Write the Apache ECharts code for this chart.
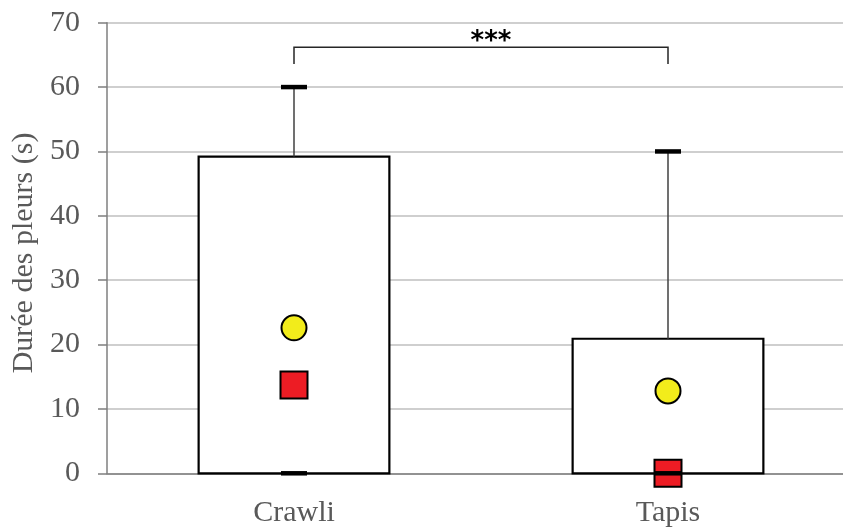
<!DOCTYPE html>
<html>
<head>
<meta charset="utf-8">
<script src="https://cdn.jsdelivr.net/npm/echarts@6/dist/echarts.min.js"></script>
<style>
  html, body { margin: 0; padding: 0; background: #fff; }
  #chart { width: 843px; height: 527px; }
</style>
</head>
<body>
<div id="chart"></div>
<script>
const categories = ["Crawli", "Tapis"];
const whiskerLow = [0, 0];
const boxLow = [0, 0];
const boxHigh = [49.2, 20.9];
const whiskerHigh = [60, 50];
const medians = [13.7, 0];
const means = [22.6, 12.8];

// significance bracket between the two groups
const sigPair = [0, 1];
const sigTop = 66.2;
const sigFoot = 63.6;
const sigLabel = "***";

const serif = "'Liberation Serif', 'Times New Roman', serif";
const textColor = "#595959";

const chart = echarts.init(document.getElementById("chart"), null, { renderer: "canvas" });

function renderBox(params, api) {
  const x = api.value(0);
  const lo = api.coord([x, api.value(1)]);
  const hi = api.coord([x, api.value(2)]);
  const w = api.size([1, 0])[0] * 0.51;
  return {
    type: "rect",
    shape: { x: lo[0] - w / 2, y: hi[1], width: w, height: lo[1] - hi[1] },
    style: { fill: "#fff", stroke: "#000", lineWidth: 2.2 },
  };
}

function renderWhisker(params, api) {
  const x = api.value(0);
  const wLo = api.coord([x, api.value(1)]);
  const bLo = api.coord([x, api.value(2)]);
  const bHi = api.coord([x, api.value(3)]);
  const wHi = api.coord([x, api.value(4)]);
  const cap = 26;
  return {
    type: "group",
    children: [
      {
        type: "line",
        shape: { x1: bHi[0], y1: bHi[1], x2: wHi[0], y2: wHi[1] },
        style: { stroke: "#404040", lineWidth: 1.5 },
      },
      {
        type: "line",
        shape: { x1: wLo[0], y1: wLo[1], x2: bLo[0], y2: bLo[1] },
        style: { stroke: "#404040", lineWidth: 1.5 },
      },
      {
        type: "line",
        shape: { x1: wHi[0] - cap / 2, y1: wHi[1], x2: wHi[0] + cap / 2, y2: wHi[1] },
        style: { stroke: "#000", lineWidth: 4.5 },
      },
      {
        type: "line",
        shape: { x1: wLo[0] - cap / 2, y1: wLo[1], x2: wLo[0] + cap / 2, y2: wLo[1] },
        style: { stroke: "#000", lineWidth: 4.5 },
      },
    ],
  };
}

function renderBracket(params, api) {
  const a = api.coord([api.value(0), api.value(2)]);
  const b = api.coord([api.value(1), api.value(2)]);
  const foot = api.coord([api.value(0), api.value(3)])[1];
  return {
    type: "group",
    children: [
      {
        type: "polyline",
        shape: { points: [[a[0], foot], [a[0], a[1]], [b[0], b[1]], [b[0], foot]] },
        style: { stroke: "#262626", lineWidth: 1.5, fill: null },
      },
      {
        type: "text",
        style: {
          x: (a[0] + b[0]) / 2 + 10,
          y: a[1] + 8,
          text: sigLabel,
          font: "bold 26px 'DejaVu Sans', sans-serif",
          fill: "#000",
          align: "center",
          verticalAlign: "bottom",
        },
      },
    ],
  };
}

chart.setOption({
  animation: false,
  backgroundColor: "#fff",
  grid: { left: 107, width: 748, top: 22.7, bottom: 53.7, outerBoundsMode: "none", containLabel: false },
  xAxis: {
    type: "category",
    data: categories,
    axisLine: { lineStyle: { color: "#7f7f7f", width: 1.5 } },
    axisTick: { show: false },
    axisLabel: { color: textColor, fontFamily: serif, fontSize: 30, margin: 25 },
    splitLine: { show: false },
  },
  yAxis: {
    type: "value",
    min: 0,
    max: 70,
    interval: 10,
    name: "Durée des pleurs (s)",
    nameLocation: "middle",
    nameGap: 66,
    nameTextStyle: { color: textColor, fontFamily: serif, fontSize: 30, padding: [0, 10, 0, 0] },
    axisLine: { show: true, lineStyle: { color: "#7f7f7f", width: 1.5 } },
    axisTick: { show: true, length: 9, lineStyle: { color: "#7f7f7f", width: 1.5 } },
    axisLabel: { color: textColor, fontFamily: serif, fontSize: 30, margin: 27 },
    splitLine: { lineStyle: { color: "#bfbfbf", width: 1.5 } },
  },
  series: [
    {
      type: "custom",
      z: 2,
      renderItem: renderBox,
      data: categories.map((c, i) => [i, boxLow[i], boxHigh[i]]),
    },
    {
      type: "scatter",
      z: 3,
      symbol: "rect",
      symbolSize: 27,
      itemStyle: { color: "#ed1c24", opacity: 1, borderColor: "#000", borderWidth: 2 },
      emphasis: { disabled: true },
      data: categories.map((c, i) => [i, medians[i]]),
    },
    {
      type: "scatter",
      z: 3,
      symbol: "circle",
      symbolSize: 25,
      itemStyle: { color: "#f2ec1b", opacity: 1, borderColor: "#000", borderWidth: 2 },
      emphasis: { disabled: true },
      data: categories.map((c, i) => [i, means[i]]),
    },
    {
      type: "custom",
      z: 4,
      renderItem: renderWhisker,
      data: categories.map((c, i) => [i, whiskerLow[i], boxLow[i], boxHigh[i], whiskerHigh[i]]),
    },
    {
      type: "custom",
      z: 4,
      renderItem: renderBracket,
      data: [[sigPair[0], sigPair[1], sigTop, sigFoot]],
    },
  ],
});
</script>
</body>
</html>
